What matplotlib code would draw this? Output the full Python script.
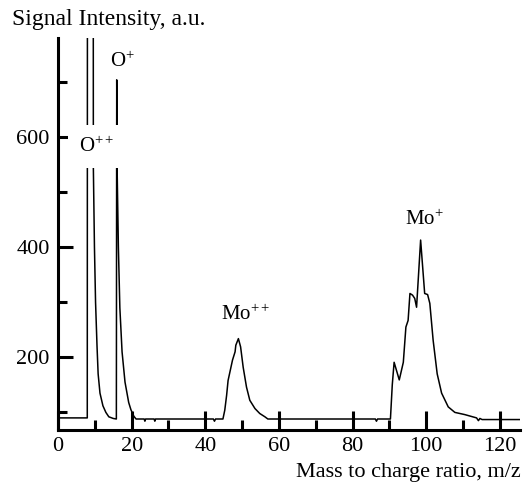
import matplotlib
matplotlib.use('Agg')
import matplotlib.pyplot as plt
from matplotlib.ticker import FixedLocator

plt.rcParams['font.family'] = 'Liberation Serif'
plt.rcParams['mathtext.fontset'] = 'custom'
plt.rcParams['mathtext.rm'] = 'Liberation Serif'
plt.rcParams['mathtext.it'] = 'Liberation Serif:italic'

# spectrum (m/z, signal in a.u.)
mz = [0, 7.95, 8.1, 9.45, 9.6, 9.9, 10.2, 10.6, 10.9, 11.4, 12.2, 13.0, 13.8, 15.0,
      15.85, 15.95, 16.05, 16.4, 16.8, 17.4, 18.2, 19.2, 19.8, 20.6, 21.2,
      23.4, 23.6, 23.8, 26.1, 26.3, 26.5, 42.2, 42.5, 42.8,
      44.8, 45.3, 45.8, 46.2, 47.4, 48.1, 48.3, 49.0, 49.6, 50.3, 51.2, 52.1,
      53.5, 54.8, 56.2, 57.0,
      86.2, 86.5, 86.8,
      90.3, 90.8, 91.3, 92.7, 93.8, 94.5, 95.1, 95.6, 96.3, 96.9, 97.4, 98.5,
      99.6, 100.4, 101.0, 101.9, 103.0, 104.2, 106.0, 107.8, 110.5, 113.7,
      114.2, 114.6, 115.2, 125.5]
signal = [90, 90, 3000, 3000, 546, 400, 300, 220, 170, 135, 112, 100, 92, 89,
          88, 704, 546, 400, 290, 210, 155, 118, 105, 93, 88,
          88, 84, 88, 88, 84, 88, 88, 84, 88,
          88, 104, 131, 158, 195, 210, 222, 234, 219, 182, 146, 122,
          107, 98, 92, 88,
          88, 84, 88,
          88, 150, 191, 159, 191, 255, 267, 316, 313, 307, 291, 413,
          316, 314, 298, 231, 170, 135, 110, 100, 96, 90,
          85, 89, 87, 87]

peak_names = ['O$^{++}$', 'O$^{+}$', 'Mo$^{++}$', 'Mo$^{+}$']
peak_mz = [10.6, 17.4, 50.9, 99.6]
peak_y = [573, 727, 267, 440]

fig = plt.figure(figsize=(5.24, 4.86), dpi=100)
ax = fig.add_axes([0.1107, 0.1152, 0.8817, 0.8066])

ax.plot(mz, signal, color='black', lw=1.1, zorder=2)

for name, x, y in zip(peak_names, peak_mz, peak_y):
    if name == 'O$^{++}$':
        # label sits on a white patch that cuts the O peaks
        ax.text(x, y, name, ha='center', va='baseline', fontsize=15, zorder=2.4,
                bbox=dict(boxstyle='square,pad=0.55', fc='white', ec='none'))
    else:
        ax.text(x, y, name, ha='center', va='baseline', fontsize=15, zorder=2.4)

ax.set_xlim(0, 125.5)
ax.set_ylim(68, 780)

for side in ['top', 'right']:
    ax.spines[side].set_visible(False)
for side in ['left', 'bottom']:
    ax.spines[side].set_linewidth(2.2)

ax.xaxis.set_major_locator(FixedLocator([0, 20, 40, 60, 80, 100, 120]))
ax.xaxis.set_minor_locator(FixedLocator([10, 30, 50, 70, 90, 110]))
ax.yaxis.set_major_locator(FixedLocator([200, 400, 600]))
ax.yaxis.set_minor_locator(FixedLocator([100, 300, 500, 700]))

ax.tick_params(axis='x', which='major', direction='in', length=14, width=2.2,
               labelsize=16, pad=5)
ax.tick_params(axis='x', which='minor', direction='in', length=7, width=2.2)
ax.tick_params(axis='y', which='major', direction='in', length=11, width=2.2,
               labelsize=16, pad=6)
ax.tick_params(axis='y', which='minor', direction='in', length=6.5, width=2.2)

fig.text(0.022, 1 - 20 / 486, 'Signal Intensity, a.u.', ha='left', va='center',
         fontsize=17)
fig.text(0.993, 1 - 472 / 486, 'Mass to charge ratio, m/z', ha='right',
         va='center', fontsize=16)

fig.savefig('out.png', dpi=100)
